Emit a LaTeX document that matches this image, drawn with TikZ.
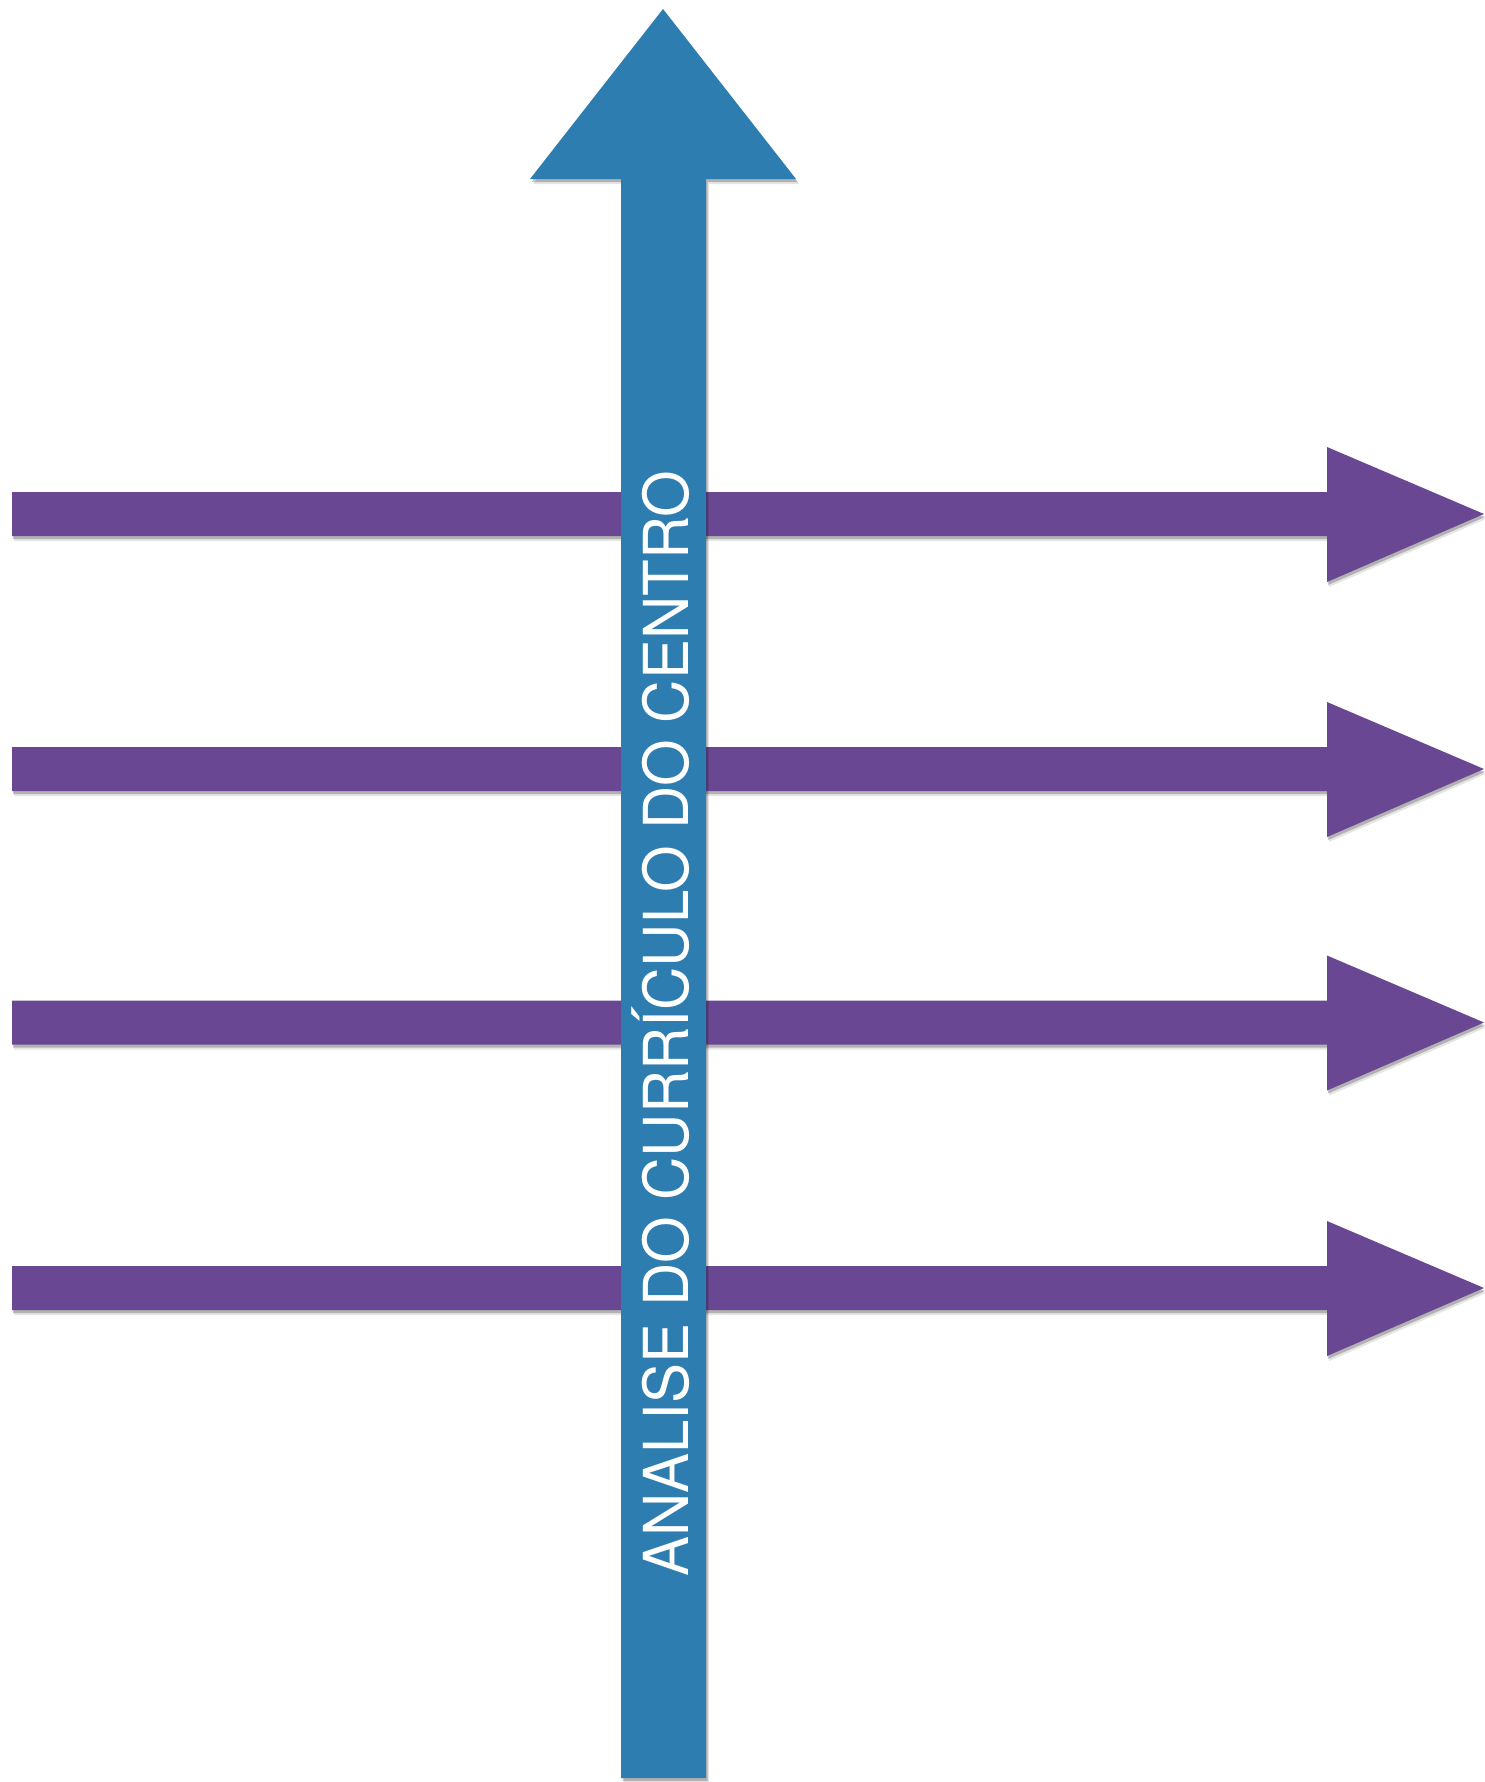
\documentclass[tikz,border=0pt]{standalone}
\usepackage{fontspec}
\setmainfont{TeX Gyre Heros}
\definecolor{axisblue}{RGB}{46,125,176}
\definecolor{strandpurple}{RGB}{106,71,146}
\tikzset{
  blueshape/.style={fill=axisblue, draw=none},
  purpleshape/.style={fill=strandpurple, draw=none},
  shadowshape/.style={fill=black, fill opacity=0.22, draw=none},
  softshadow/.style={fill=black, fill opacity=0.10, draw=none},
  axislabel/.style={text=white, font=\fontsize{62}{62}\selectfont, inner sep=0pt, rotate=90, anchor=base}
}
\newcommand{\purplearrow}[2]{%
  \path[#2] (12,#1-22) -- (1327,#1-22) -- (1327,#1-67) -- (1484,#1) -- (1327,#1+68) -- (1327,#1+22) -- (12,#1+22) -- cycle;}
\newcommand{\bluearrow}[1]{%
  \path[#1] (621,1778) -- (621,179) -- (530,179) -- (663,9) -- (796,179) -- (706,179) -- (706,1778) -- cycle;}
\begin{document}
\begin{tikzpicture}[x=1pt,y=-1pt]
  \useasboundingbox (0,0) rectangle (1484,1782);
  \fill[white] (0,0) rectangle (1484,1782);
  % purple strands with shadows
  \foreach \c in {514,769,1022.5,1288}{
    \begin{scope}[shift={(2,5)}]\purplearrow{\c}{softshadow}\end{scope}
    \begin{scope}[shift={(1,3)}]\purplearrow{\c}{shadowshape}\end{scope}
    \purplearrow{\c}{purpleshape}
  }
  % blue axis with shadow
  \begin{scope}[shift={(3,5)}]\bluearrow{softshadow}\end{scope}
  \begin{scope}[shift={(1.5,3)}]\bluearrow{shadowshape}\end{scope}
  \bluearrow{blueshape}
  \node[axislabel] (label) at (688,1023.5) {\scalebox{0.967}[1]{ANALISE DO CURRÍCULO DO CENTRO}};
\end{tikzpicture}
\end{document}
